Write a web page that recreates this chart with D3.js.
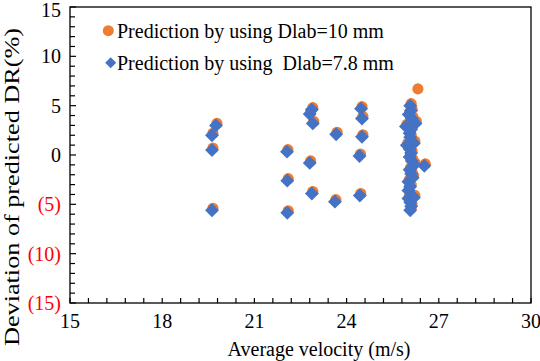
<!DOCTYPE html>
<html><head><meta charset="utf-8">
<script src="https://cdn.jsdelivr.net/npm/d3@7"></script>
<style>body{margin:0;background:#fff}svg{display:block}text{font-family:"Liberation Serif","Times New Roman",serif}</style>
</head><body>
<svg id="c" width="540" height="361"></svg>
<script>
// ---- data ----
const seriesNames = ["Prediction by using Dlab=10 mm", "Prediction by using  Dlab=7.8 mm"];
const blueVelocity = [19.75,19.62,19.62,19.62, 22.06,22.07,22.07, 22.87,22.8,22.9,22.8,22.87, 23.66,23.62,
  24.47,24.5,24.5,24.42,24.43,
  26.07,26.1,26.02,26.12,26.24,25.93,26.1,26.05,26.07,26.19,25.96,26.05,26.1,26.05,26.12,26.53,26.2,26.05,26.1,26.01,26.15,26.07,26.01,26.01,26.19,26.07,26.1,26.07];
const blueDeviation = [3.0,2.0,0.5,-5.6, 0.34,-2.6,-5.85, 4.6,4.15,3.2,-0.8,-3.9, 2.1,-4.73,
  4.7,3.7,1.85,-0.1,-4.1,
  5.0,4.5,4.1,3.7,3.2,2.9,2.6,2.2,1.8,1.2,1.0,0.6,0.2,-0.2,-0.6,-1.1,-1.0,-1.5,-1.9,-2.7,-2.3,-3.2,-3.6,-4.4,-4.3,-4.8,-5.2,-5.6];
const orangeVelocity = [19.78,19.65,19.65,19.65, 22.09,22.1,22.1, 22.9,22.83,22.93,22.83,22.9, 23.69,23.65,
  24.5,24.53,24.53,24.45,24.46,
  26.1,26.13,26.05,26.15,26.27,25.96,26.13,26.08,26.1,26.22,25.99,26.08,26.13,26.08,26.15,26.56,26.23,26.08,26.13,26.04,26.18,26.1,26.04,26.04,26.22,26.1,26.13,26.1, 26.32];
const orangeDeviation = [3.2,2.2,0.7,-5.4, 0.54,-2.4,-5.65, 4.8,4.35,3.4,-0.6,-3.7, 2.3,-4.53,
  4.9,3.9,2.05,0.1,-3.9,
  5.2,4.7,4.3,3.9,3.4,3.1,2.8,2.4,2.0,1.4,1.2,0.8,0.4,0.0,-0.4,-0.9,-0.8,-1.3,-1.7,-2.5,-2.1,-3.0,-3.4,-4.2,-4.1,-4.6,-5.0,-5.4, 6.7];
const xTicks = [15,18,21,24,27,30];
const yTicks = [15,10,5,0,-5,-10,-15];

// ---- layout ----
const L=70, R=531, T=7, B=303;
const x = d3.scaleLinear().domain([15,30]).range([L,R]);
const y = d3.scaleLinear().domain([-15,15]).range([B,T]);
const svg = d3.select("#c");
const orange="#ED7D31", blue="#4472C4";

// frame
svg.append("rect").attr("x",L).attr("y",T).attr("width",R-L).attr("height",B-T)
  .attr("fill","none").attr("stroke","#000").attr("stroke-width",1.3);

// minor/major ticks (inside)
const xMinor = d3.range(0,26).map(i=>15+i*0.6);
svg.append("g").selectAll("line").data(xMinor).join("line")
  .attr("x1",d=>x(d)).attr("x2",d=>x(d)).attr("y1",B).attr("y2",B-5)
  .attr("stroke","#000").attr("stroke-width",1.2);
const yMinor = d3.range(-15,16);
svg.append("g").selectAll("line").data(yMinor).join("line")
  .attr("y1",d=>y(d)).attr("y2",d=>y(d)).attr("x1",L).attr("x2",d=>L+(d%5===0?6:5))
  .attr("stroke","#000").attr("stroke-width",1.2);

// tick labels
svg.append("g").selectAll("text").data(xTicks).join("text")
  .attr("x",d=>x(d)).attr("y",328).attr("text-anchor","middle")
  .attr("font-size",20).attr("fill","#000").text(d=>d);
svg.append("g").selectAll("text").data(yTicks).join("text")
  .attr("x",61).attr("y",d=>y(d)+(d===15?10:7)).attr("text-anchor","end")
  .attr("font-size",20).attr("fill",d=>d<0?"#FF0000":"#000")
  .text(d=>d<0?"("+(-d)+")":d);

// axis titles
svg.append("text").attr("x",319).attr("y",356).attr("text-anchor","middle")
  .attr("font-size",20).text("Average velocity (m/s)");
svg.append("text").attr("transform","translate(19,187) rotate(-90)")
  .attr("text-anchor","middle").attr("font-size",20)
  .attr("textLength",318).attr("lengthAdjust","spacingAndGlyphs")
  .text("Deviation  of predicted DR(%)");

// points
const diamond = d3.symbol().type(d3.symbolSquare).size(96);
const orangePts = orangeVelocity.map((v,i)=>[v,orangeDeviation[i]]);
const bluePts = blueVelocity.map((v,i)=>[v,blueDeviation[i]]);
svg.append("g").selectAll("circle").data(orangePts).join("circle")
  .attr("cx",d=>x(d[0])).attr("cy",d=>y(d[1])).attr("r",5.6).attr("fill",orange);
svg.append("g").selectAll("path").data(bluePts).join("path")
  .attr("d",diamond).attr("fill",blue)
  .attr("transform",d=>`translate(${x(d[0])},${y(d[1])}) rotate(45)`);

// legend
svg.append("circle").attr("cx",108.3).attr("cy",30.7).attr("r",5.5).attr("fill",orange);
svg.append("text").attr("x",117).attr("y",37.5).attr("font-size",20).text(seriesNames[0]);
svg.append("path").attr("d",d3.symbol().type(d3.symbolSquare).size(60)).attr("fill",blue)
  .attr("transform","translate(110.7,62.7) rotate(45)");
svg.append("text").attr("x",117).attr("y",69.5).attr("font-size",20).attr("xml:space","preserve")
  .style("white-space","pre").text(seriesNames[1]);
</script>
</body></html>
